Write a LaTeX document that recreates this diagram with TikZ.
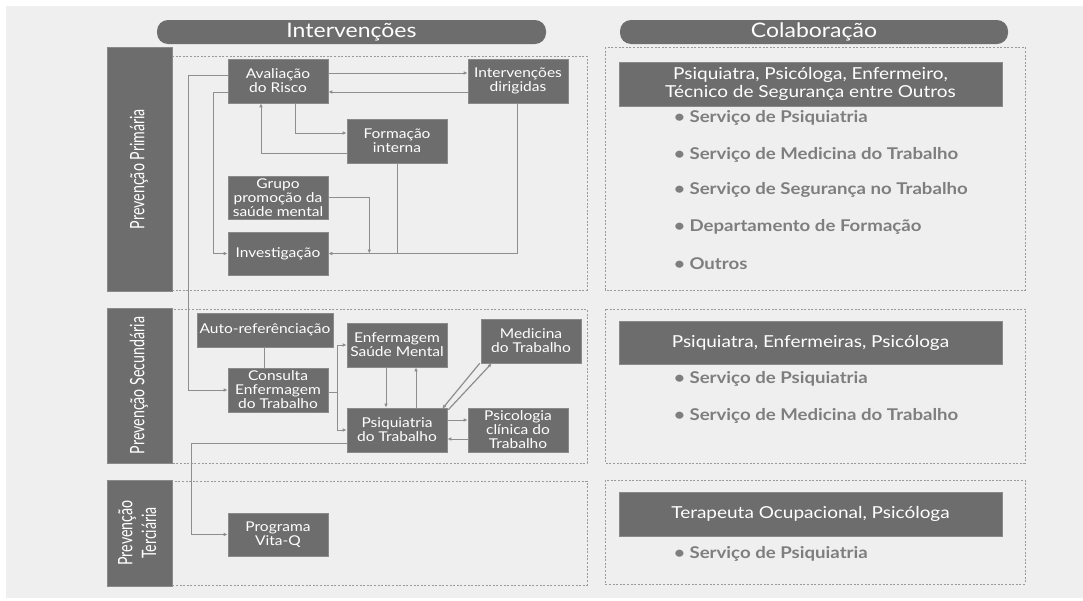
\documentclass[tikz,border=0pt]{standalone}
\usepackage{fontspec}
\usepackage{graphicx}
\setmainfont{Lato}[FakeStretch=1.15]
\newfontfamily\sidefont{Lato}
\usetikzlibrary{arrows.meta}
\definecolor{paper}{HTML}{EFEFEF}
\definecolor{boxgray}{HTML}{6D6D6D}
\definecolor{linegray}{HTML}{8E8E8E}
\definecolor{dashgray}{HTML}{9A9A9A}
\definecolor{bulletgray}{HTML}{7E7E7E}
\tikzset{
  x=1pt, y=-1pt,
  box/.style={fill=boxgray, draw=boxgray!80!white, line width=0.6pt, text=white,
    font=\fontsize{13.5}{14}\selectfont, align=center, inner sep=0pt,
    minimum width=100pt, minimum height=44pt},
  pill/.style={fill=boxgray, rounded corners=11pt, text=white,
    font=\fontsize{20}{22}\selectfont, inner sep=0pt},
  sidebar/.style={fill=boxgray, draw=boxgray!80!white, line width=0.6pt, inner sep=0pt, minimum width=65pt},
  sidetext/.style={rotate=90, text=white, font=\sidefont\fontsize{14.2}{17}\selectfont, inner sep=0pt},
  frame/.style={draw=dashgray, line width=1pt, dash pattern=on 2pt off 1.6pt},
  head/.style={fill=boxgray, draw=boxgray!80!white, line width=0.6pt, text=white,
    font=\fontsize{16.5}{17.5}\selectfont, align=center, inner sep=0pt, minimum width=383pt},
  item/.style={anchor=west, text=bulletgray, font=\bfseries\fontsize{16.2}{18}\selectfont, inner sep=0pt},
  conn/.style={draw=linegray, line width=1pt},
  arr/.style={conn, -{Latex[length=4pt,width=3.6pt]}},
}
% rotated bar labels are drawn with taller glyphs
\newcommand{\barlabel}[1]{\scalebox{1}[1.4]{\begin{tabular}{@{}c@{}}#1\end{tabular}}}
\begin{document}
\begin{tikzpicture}
\useasboundingbox (0,0) rectangle (1083,600);
\fill[white] (0,0) rectangle (1083,600);
\fill[paper] (6,6) rectangle (1083,598);

% column titles
\node[pill, minimum width=389pt, minimum height=24pt] (tint) at (351.5,32) {Intervenções};
\node[pill, minimum width=388pt, minimum height=24pt] (tcol) at (814,32) {Colaboração};

% dashed frames of the three levels
\draw[frame] (172,56) rectangle (587,290);
\draw[frame] (172,309) rectangle (587,463);
\draw[frame] (172,481) rectangle (587,585);
\draw[frame] (605,47) rectangle (1025,290);
\draw[frame] (605,309) rectangle (1025,463);
\draw[frame] (605,480) rectangle (1025,584);

% level bars
\node[sidebar, minimum height=244pt] (lp) at (139.5,169) {};
\node[sidetext] (lpt) at (lp.center) {\barlabel{Prevenção Primária}};
\node[sidebar, minimum height=155pt] (ls) at (139.5,385.5) {};
\node[sidetext] (lst) at (ls.center) {\barlabel{Prevenção Secundária}};
\node[sidebar, minimum height=106pt] (lt) at (139.5,533) {};
\node[sidetext] (ltt) at (lt.center) {\barlabel{Prevenção\\Terciária}};

% primary prevention
\node[box] (av) at (278,81) {Avaliação\\do Risco};
\node[box] (iv) at (518,81) {Intervenções\\dirigidas};
\node[box] (fi) at (397,141) {Formação\\interna};
\node[box, minimum height=43pt] (gp) at (278,197.5) {Grupo\\promoção da\\saúde mental};
\node[box, minimum height=43pt] (inv) at (278,253.5) {Investigação};

% secondary prevention
\node[box, minimum width=136pt, minimum height=34pt] (ar) at (265,330) {Auto-referênciação};
\node[box] (cons) at (278,390) {Consulta\\Enfermagem\\do Trabalho};
\node[box] (esm) at (397,345) {Enfermagem\\Saúde Mental};
\node[box] (med) at (531,341) {Medicina\\do Trabalho};
\node[box] (psq) at (397,430) {Psiquiatria\\do Trabalho};
\node[box] (pcl) at (518,430) {Psicologia\\clínica do\\Trabalho};

% tertiary prevention
\node[box, minimum height=43pt] (prog) at (278,534.5) {Programa\\Vita-Q};

% connectors, primary
\draw[arr] ([yshift=8pt]av.east) -- ([yshift=8pt]iv.west);
\draw[arr] ([yshift=-11pt]iv.west) -- ([yshift=-11pt]av.east);
\draw[arr] ([xshift=17pt]av.south) |- ([yshift=8pt]fi.west);
\draw[arr] ([yshift=-12pt]fi.west) -| ([xshift=-17pt]av.south);
\draw[arr] ([yshift=-11pt]av.west) -- ++(-14pt,0) |- (inv.west);
\draw[arr] ([xshift=-1pt]iv.south) |- (inv.east);
\draw[conn] (fi.south) -- (fi.south |- inv.east);
\draw[arr] (gp.east) -| ([xshift=41pt]inv.east);

% connector from risk assessment down to the nursing consultation
\draw[arr] ([yshift=6pt]av.west) -- ++(-39pt,0) |- (cons.west);

% connectors, secondary
\draw[conn] (ar.south -| 264,0) -- (cons.north -| 264,0);
\draw[arr] ([yshift=-2pt]cons.east) -- ++(9pt,0) |- (esm.west);
\draw[arr] ([yshift=-2pt]cons.east) -- ++(9pt,0) |- (psq.west);
\draw[arr] ([xshift=-11pt]esm.south) -- ([xshift=-11pt]psq.north);
\draw[arr] ([xshift=19pt]psq.north) -- ([xshift=19pt]esm.south);
\draw[arr, line width=1.2pt] ([xshift=-1pt]med.south west) -- ([xshift=-5pt,yshift=-1pt]psq.north east);
\draw[arr, line width=1.2pt] ([xshift=1pt,yshift=-2pt]psq.north east) -- ([xshift=11pt]med.south west);
\draw[arr] ([yshift=10pt]psq.east) -- ([yshift=10pt]pcl.west);
\draw[arr] ([yshift=-9pt]pcl.west) -- ([yshift=-9pt]psq.east);

% connector to the tertiary programme
\draw[arr] ([yshift=-13pt]psq.west) -- ++(-155pt,0) |- (prog.west);

% collaboration column
\node[head, minimum height=44pt] (c1) at (810.5,84) {Psiquiatra, Psicóloga, Enfermeiro,\\Técnico de Segurança entre Outros};
\node[item] (c1a) at (674,118) {• Serviço de Psiquiatria};
\node[item] (c1b) at (674,155) {• Serviço de Medicina do Trabalho};
\node[item] (c1c) at (674,190) {• Serviço de Segurança no Trabalho};
\node[item] (c1d) at (674,227) {• Departamento de Formação};
\node[item] (c1e) at (674,264) {• Outros};

\node[head, minimum height=43pt] (c2) at (810.5,342.5) {Psiquiatra, Enfermeiras, Psicóloga};
\node[item] (c2a) at (674,379) {• Serviço de Psiquiatria};
\node[item] (c2b) at (674,416) {• Serviço de Medicina do Trabalho};

\node[head, minimum height=44pt] (c3) at (810.5,514) {Terapeuta Ocupacional, Psicóloga};
\node[item] (c3a) at (674,554) {• Serviço de Psiquiatria};
\end{tikzpicture}
\end{document}
